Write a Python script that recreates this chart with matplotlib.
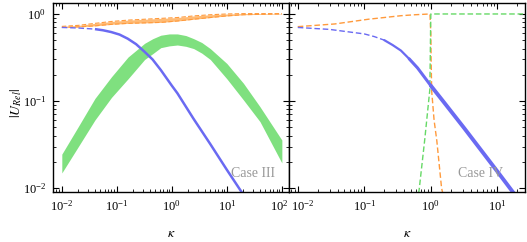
import matplotlib
matplotlib.use("Agg")
import matplotlib.pyplot as plt
from matplotlib.ticker import LogLocator, NullFormatter
from matplotlib.transforms import ScaledTranslation

plt.rcParams['font.family'] = ['Liberation Serif', 'DejaVu Serif']
plt.rcParams['mathtext.fontset'] = 'stix'

# --- Case III (left panel) ---
k3 = [0.01, 0.02, 0.04, 0.08, 0.16, 0.32, 0.63, 1.26, 2.5, 5, 10, 20, 40, 100]
orange3_hi = [0.72, 0.74, 0.78, 0.82, 0.85, 0.87, 0.89, 0.91, 0.95, 0.98, 1.0, 1.01, 1.01, 1.01]
orange3_lo = [0.70, 0.71, 0.73, 0.76, 0.78, 0.79, 0.80, 0.83, 0.87, 0.91, 0.95, 0.98, 0.99, 1.0]

kg3 = [0.01, 0.02, 0.04, 0.08, 0.16, 0.32, 0.45, 0.63, 0.9, 1.26, 1.8, 2.5, 3.5, 5, 10, 20, 40, 100]
green3_hi = [0.0245, 0.051, 0.107, 0.19, 0.32, 0.46, 0.52, 0.57, 0.59, 0.59, 0.565, 0.52, 0.47,
             0.40, 0.27, 0.16, 0.086, 0.0356]
green3_lo = [0.0149, 0.030, 0.0605, 0.11, 0.18, 0.30, 0.35, 0.41, 0.43, 0.44, 0.425, 0.40, 0.355,
             0.30, 0.18, 0.103, 0.058, 0.0194]

kb3 = [0.01, 0.02, 0.04, 0.056, 0.079, 0.112, 0.158, 0.224, 0.316, 0.447, 0.63, 1.0, 1.26,
       2.5, 5, 10, 17.5, 25]
blue3 = [0.70, 0.69, 0.67, 0.65, 0.62, 0.58, 0.52, 0.45, 0.37, 0.30, 0.227, 0.15, 0.123,
         0.062, 0.032, 0.0162, 0.0095, 0.0068]

# --- Case IV (right panel) ---
kb4 = [0.01, 0.03, 0.1, 0.141, 0.2, 0.266, 0.355, 0.473, 0.631, 1.0, 1.585, 3.16, 10, 16.2, 20]
blue4 = [0.70, 0.665, 0.59, 0.55, 0.50, 0.44, 0.38, 0.305, 0.24, 0.15, 0.096, 0.049, 0.0155,
         0.0095, 0.0077]

ko4 = [0.01, 0.036, 0.115, 0.36, 0.58, 0.97, 1.0, 1.01, 1.03, 1.12, 1.23, 1.45, 1.55]
orange4 = [0.715, 0.768, 0.87, 0.956, 0.98, 1.0, 0.6, 0.3, 0.13, 0.06, 0.035, 0.01, 0.008]

kg4 = [0.62, 0.667, 0.81, 0.965, 0.98, 0.99, 1.0, 26]
green4 = [0.007, 0.0095, 0.036, 0.134, 0.3, 0.6, 1.0, 1.0]

c_or = '#ffb466'
c_or_edge = '#ff9a3c'
c_gr = '#7fe07f'
c_bl = '#6a6af2'
dash = (0, (4, 2))

fig = plt.figure(figsize=(5.27, 2.42), dpi=100)
ax1 = fig.add_axes([0.1006, 0.2066, 0.4478, 0.781])
ax2 = fig.add_axes([0.548, 0.2066, 0.448, 0.781])

# left panel
ax1.fill_between(k3, orange3_lo, orange3_hi, color=c_or, lw=0, alpha=0.9)
ax1.plot(k3, orange3_hi, color=c_or_edge, lw=0.8, ls=dash)
ax1.plot(k3, orange3_lo, color=c_or_edge, lw=0.8, ls=dash)
ax1.fill_between(kg3, green3_lo, green3_hi, color=c_gr, lw=0)
ax1.plot(kb3[:3], blue3[:3], color=c_bl, lw=1.0, ls=dash)
ax1.plot(kb3[2:], blue3[2:], color=c_bl, lw=1.8, solid_capstyle='butt')
ax1.text(0.94, 0.1, 'Case III', transform=ax1.transAxes, ha='right', va='center',
         color='#999999', fontsize=10)

# right panel
ax2.plot(ko4, orange4, color=c_or_edge, lw=1.0, ls=dash)
ax2.plot(kg4, green4, color='#66d966', lw=1.0, ls=dash)
ax2.plot(kb4[:5], blue4[:5], color=c_bl, lw=1.0, ls=dash)
ax2.plot(kb4[4:8], blue4[4:8], color=c_bl, lw=1.6, solid_capstyle='round')
ax2.plot(kb4[7:10], blue4[7:10], color=c_bl, lw=2.2, solid_capstyle='round')
ax2.plot(kb4[9:], blue4[9:], color=c_bl, lw=2.8, solid_capstyle='round')
ax2.text(0.907, 0.1, 'Case IV', transform=ax2.transAxes, ha='right', va='center',
         color='#999999', fontsize=10)

for ax in (ax1, ax2):
    ax.set_xscale('log')
    ax.set_yscale('log')
    ax.set_ylim(0.009, 1.337)
    ax.xaxis.set_minor_locator(LogLocator(base=10, subs=range(2, 10), numticks=20))
    ax.xaxis.set_minor_formatter(NullFormatter())
    ax.yaxis.set_minor_formatter(NullFormatter())
    ax.tick_params(which='both', direction='in', top=True, right=True, labelsize=9)
    ax.tick_params(which='major', length=4, width=0.8, pad=5)
    ax.tick_params(which='minor', length=2, width=0.6)
    ax.set_xlabel(r'$\kappa$', fontsize=10, labelpad=10)
    for s in ax.spines.values():
        s.set_linewidth(1.0)

ax1.set_xlim(10**-2.16, 10**2.13)
ax2.set_xlim(10**-2.135, 10**1.414)
ax1.set_xticks([0.01, 0.1, 1, 10, 100])
ax2.set_xticks([0.01, 0.1, 1, 10])
ax1.set_yticks([0.01, 0.1, 1])
ax2.set_yticks([0.01, 0.1, 1])
ax2.tick_params(labelleft=False)
ax1.set_ylabel(r'$|U_{Rel}|$', fontsize=10)
ax1.yaxis.set_label_coords(-0.125, 0.47)

# nudge the two labels that meet at the shared edge apart
lab_r = ax1.get_xticklabels()[-1]
lab_r.set_transform(lab_r.get_transform() + ScaledTranslation(-0.03, 0, fig.dpi_scale_trans))
lab_l = ax2.get_xticklabels()[0]
lab_l.set_transform(lab_l.get_transform() + ScaledTranslation(0.05, 0, fig.dpi_scale_trans))

fig.savefig('out.png', dpi=100)
